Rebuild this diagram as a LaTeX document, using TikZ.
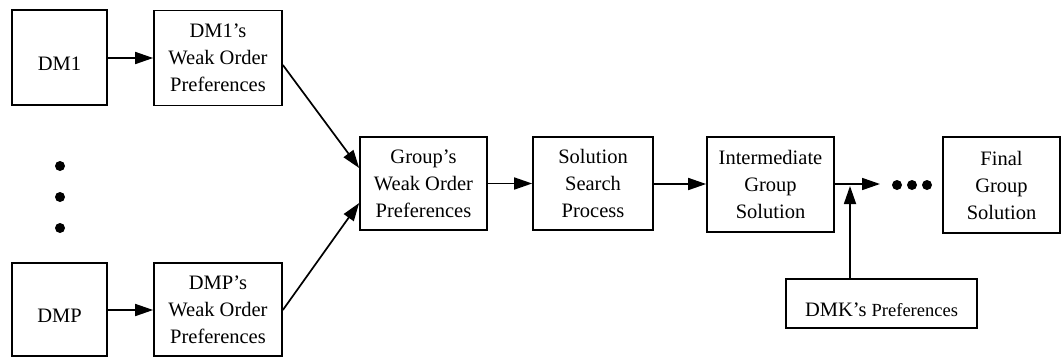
\documentclass[tikz,border=0pt]{standalone}
\usepackage{fontspec}
\setmainfont{Liberation Serif}
\newfontfamily\tmsfont{Liberation Serif}
\usetikzlibrary{arrows.meta}
\begin{document}
\begin{tikzpicture}[x=1pt,y=-1pt,
  box/.style={draw,line width=1.7pt,align=center,inner sep=0pt,
    font=\tmsfont\fontsize{20.5}{27}\selectfont,
    execute at begin node=\rule{0pt}{26pt}},
  arr/.style={line width=1.7pt,-{Triangle[length=18pt,width=12pt]}},
  dot/.style={circle,fill,inner sep=0pt,minimum size=10pt}]
\useasboundingbox (0,0) rectangle (1062,357);
\node[box,minimum width=95pt,minimum height=95pt] (dm1) at (59.5,57.5) {DM1};
\node[box,minimum width=128pt,minimum height=95pt] (dm1p) at (218,58) {DM1’s\\Weak Order\\Preferences};
\node[box,minimum width=95pt,minimum height=93pt] (dmp) at (59.5,309.5) {DMP};
\node[box,minimum width=128pt,minimum height=93pt] (dmpp) at (218,309.5) {DMP’s\\Weak Order\\Preferences};
\node[box,minimum width=127pt,minimum height=93pt] (grp) at (423.5,183.5) {Group’s\\Weak Order\\Preferences};
\node[box,minimum width=120pt,minimum height=93pt] (sol) at (593,183.5) {Solution\\Search\\Process};
\node[box,minimum width=127pt,minimum height=95pt] (int) at (770.5,184.5) {Intermediate\\Group\\Solution};
\node[box,minimum width=117pt,minimum height=96pt] (fin) at (1001.5,185) {Final\\Group\\Solution};
\node[box,minimum width=191pt,minimum height=49pt,execute at begin node=\rule{0pt}{20pt}] (dmk) at (881.5,303.5) {DMK’s {\fontsize{18.5}{20}\selectfont Preferences}};
\node[dot] (d1) at (60,166) {};
\node[dot] (d2) at (60,197) {};
\node[dot] (d3) at (60,228) {};
\node[dot] (e1) at (897,185) {};
\node[dot] (e2) at (912,185) {};
\node[dot] (e3) at (927,185) {};
\coordinate (tip) at (880,184);
\coordinate (join) at (850,186);
\draw[arr] (dm1.east |- 0,58) -- (dm1p.west |- 0,58);
\draw[arr] (dmp.east |- 0,310) -- (dmpp.west |- 0,310);
\draw[arr] (dm1p.east |- 0,65) -- (grp.west |- 0,168);
\draw[arr] (dmpp.east |- 0,310) -- (grp.west |- 0,203);
\draw[arr] (grp.east |- 0,183.5) -- (sol.west |- 0,183.5);
\draw[arr] (sol.east |- 0,184) -- (int.west |- 0,184);
\draw[arr] (int.east |- 0,184) -- (tip);
\draw[arr] (dmk.north -| join) -- (join);
\end{tikzpicture}
\end{document}
